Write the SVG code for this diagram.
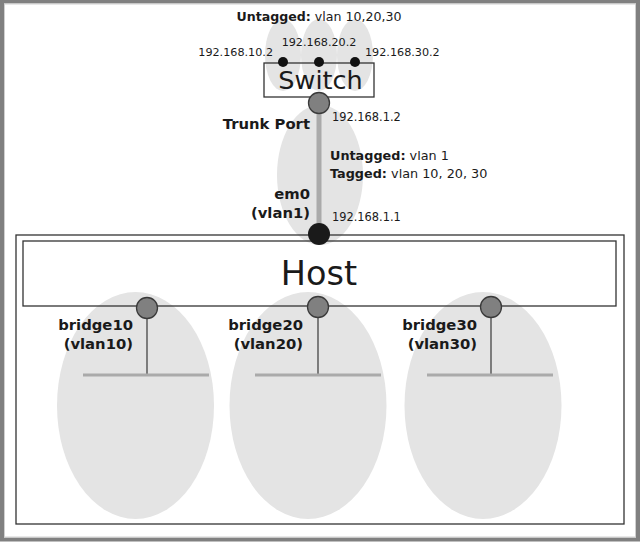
<svg xmlns="http://www.w3.org/2000/svg" width="640" height="542" viewBox="0 0 640 542">
<style>
.bg{fill:#e4e4e4;stroke:none}
.box{fill:none;stroke:#333;stroke-width:1.3}
.lbl{font-family:"DejaVu Sans",sans-serif;fill:#1a1a1a}
.b{font-weight:bold}
.bl{font-family:"DejaVu Sans",sans-serif;fill:#1a1a1a;font-weight:bold;font-size:14.8px;text-anchor:end}
.port{fill:#808080;stroke:#3a3a3a;stroke-width:1.3}
.dot{fill:#111}
.seg{stroke:#aaa;stroke-width:3}
.drop{stroke:#444;stroke-width:1.3}
</style>
<rect x="0" y="0" width="640" height="542" fill="#fff"/>
<rect x="2" y="1.5" width="636" height="538" fill="none" stroke="#808080" stroke-width="4"/>
<rect x="4.5" y="4" width="631" height="533" fill="none" stroke="#d0d0d0" stroke-width="1"/>

<g id="backgrounds">
<ellipse class="bg" cx="283" cy="55" rx="18" ry="36"/>
<ellipse class="bg" cx="319" cy="55" rx="18" ry="36"/>
<ellipse class="bg" cx="355" cy="55" rx="18" ry="36"/>
<ellipse class="bg" cx="320" cy="175" rx="43" ry="70"/>
<ellipse class="bg" cx="135.5" cy="405.5" rx="78.5" ry="113.5"/>
<ellipse class="bg" cx="308" cy="405.5" rx="78.5" ry="113.5"/>
<ellipse class="bg" cx="483" cy="405.5" rx="78.5" ry="113.5"/>
</g>

<g id="host">
<rect class="box" x="16" y="235" width="608" height="289"/>
<rect class="box" x="23" y="241" width="593" height="65" fill="#fff"/>
<text class="lbl" x="319" y="285" font-size="33.5" text-anchor="middle">Host</text>
</g>

<g id="connectors">
<line x1="319" y1="103" x2="319" y2="234" stroke="#aaa" stroke-width="5"/>
<line class="drop" x1="147" y1="308" x2="147" y2="375"/>
<line class="drop" x1="318" y1="307" x2="318" y2="375"/>
<line class="drop" x1="491" y1="307" x2="491" y2="375"/>
<line class="seg" x1="83" y1="375" x2="209" y2="375"/>
<line class="seg" x1="255" y1="375" x2="381" y2="375"/>
<line class="seg" x1="427" y1="375" x2="553" y2="375"/>
</g>

<g id="switch">
<rect class="box" x="264" y="63" width="110" height="34"/>
<text class="lbl" x="320.5" y="89" font-size="25.5" text-anchor="middle">Switch</text>
<circle class="dot" cx="283" cy="62" r="5"/>
<circle class="dot" cx="319" cy="62" r="5"/>
<circle class="dot" cx="355" cy="62" r="5"/>
<text class="lbl" x="319" y="21" font-size="12.6" text-anchor="middle"><tspan class="b">Untagged:</tspan> vlan 10,20,30</text>
<text class="lbl" x="273" y="56" font-size="11.2" text-anchor="end">192.168.10.2</text>
<text class="lbl" x="319" y="46" font-size="11.2" text-anchor="middle">192.168.20.2</text>
<text class="lbl" x="365" y="56" font-size="11.2">192.168.30.2</text>
</g>

<g id="trunk-port">
<circle class="port" cx="319" cy="103" r="10.5"/>
<text class="bl" x="310" y="129">Trunk Port</text>
<text class="lbl" x="332" y="121" font-size="11.4">192.168.1.2</text>
<text class="lbl" x="330" y="160" font-size="12.8"><tspan class="b">Untagged:</tspan> vlan 1</text>
<text class="lbl" x="330" y="178" font-size="12.8"><tspan class="b">Tagged:</tspan> vlan 10, 20, 30</text>
</g>

<g id="em0">
<circle cx="319" cy="234" r="11" fill="#1a1a1a"/>
<text class="bl" x="310" y="199">em0</text>
<text class="bl" x="310" y="218">(vlan1)</text>
<text class="lbl" x="332" y="221" font-size="11.4">192.168.1.1</text>
</g>

<g id="bridge10">
<circle class="port" cx="147" cy="308" r="10.5"/>
<text class="bl" x="133" y="330">bridge10</text>
<text class="bl" x="133" y="349">(vlan10)</text>
</g>
<g id="bridge20">
<circle class="port" cx="318" cy="307" r="10.5"/>
<text class="bl" x="303" y="330">bridge20</text>
<text class="bl" x="303" y="349">(vlan20)</text>
</g>
<g id="bridge30">
<circle class="port" cx="491" cy="307" r="10.5"/>
<text class="bl" x="477" y="330">bridge30</text>
<text class="bl" x="477" y="349">(vlan30)</text>
</g>
</svg>
